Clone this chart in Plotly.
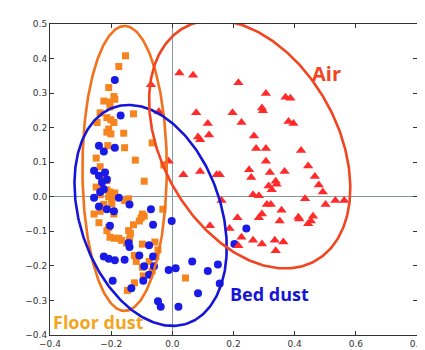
import numpy as np
import plotly.graph_objects as go

# ---------------- data ----------------
air_x = [-0.070, -0.044, -0.012, 0.023, 0.068, 0.216, 0.078, 0.197, 0.116, 0.226, 0.120, 0.084,
         0.091, 0.267, 0.306, 0.370, 0.386, 0.293, 0.296, 0.380, 0.396, 0.274, 0.306, 0.421,
         0.306, 0.444, 0.251, 0.319, 0.367, 0.466, 0.155, 0.258, 0.036, 0.091, 0.145, 0.338,
         0.341, 0.315, 0.325, 0.479, 0.492, 0.264, 0.283, 0.434, 0.533, 0.562, 0.501, 0.309,
         0.322, 0.357, 0.293, 0.283, 0.351, 0.412, 0.415, 0.460, 0.453, 0.444, 0.161, 0.213,
         0.123, 0.187, 0.226, 0.264, 0.293, 0.335, 0.363, 0.338, 0.216]
air_y = [0.324, 0.246, 0.103, 0.358, 0.352, 0.330, 0.243, 0.243, 0.212, 0.215, 0.179, 0.173,
         0.165, 0.176, 0.299, 0.288, 0.285, 0.257, 0.249, 0.218, 0.212, 0.140, 0.140, 0.134,
         0.103, 0.089, 0.078, 0.070, 0.073, 0.059, 0.064, 0.056, 0.064, 0.073, 0.064, 0.045,
         0.036, 0.031, 0.020, 0.034, 0.014, 0.006, 0.003, -0.006, -0.011, -0.011, -0.022, -0.022,
         -0.022, -0.039, -0.050, -0.061, -0.070, -0.059, -0.064, -0.056, -0.070, -0.078, -0.011, -0.061,
         -0.084, -0.092, -0.117, -0.126, -0.137, -0.126, -0.131, -0.156, -0.142]

bed_x = [-0.188, -0.169, -0.240, -0.224, -0.188, -0.256, -0.220, -0.240, -0.214, -0.230, -0.224,
         -0.236, -0.256, -0.175, -0.240, -0.214, -0.191, -0.140, -0.070, -0.002, -0.063, -0.204,
         -0.143, -0.140, -0.076, -0.224, -0.208, -0.188, -0.156, -0.108, -0.063, -0.092, -0.060,
         -0.012, 0.011, -0.076, -0.195, -0.095, -0.134, 0.065, 0.116, 0.149, 0.155, 0.084,
         -0.047, -0.038, 0.020, 0.242, 0.203]
bed_y = [0.338, 0.235, 0.148, 0.131, 0.142, 0.075, 0.070, 0.061, 0.050, 0.042, 0.022,
         0.014, -0.003, -0.003, -0.028, -0.036, -0.042, -0.022, -0.036, -0.070, -0.081, -0.084,
         -0.134, -0.145, -0.140, -0.173, -0.179, -0.184, -0.182, -0.170, -0.173, -0.201, -0.201,
         -0.212, -0.207, -0.226, -0.243, -0.243, -0.265, -0.187, -0.215, -0.196, -0.251, -0.279,
         -0.302, -0.318, -0.318, -0.092, -0.137]

floor_x = [-0.153, -0.175, -0.208, -0.191, -0.224, -0.204, -0.188, -0.204, -0.236, -0.127, -0.214,
           -0.201, -0.246, -0.191, -0.208, -0.214, -0.201, -0.159, -0.066, -0.211, -0.156, -0.249,
           -0.121, -0.236, -0.028, -0.230, -0.092, -0.214, -0.230, -0.249, -0.214, -0.204, -0.188,
           -0.236, -0.208, -0.198, -0.143, -0.156, -0.198, -0.224, -0.230, -0.236, -0.256, -0.191,
           -0.098, -0.092, -0.102, -0.108, -0.031, -0.240, -0.208, -0.214, -0.127, -0.143, -0.137,
           -0.204, -0.191, -0.175, -0.166, -0.140, -0.150, -0.098, -0.057, -0.047, -0.054, -0.124,
           -0.118, -0.076, -0.098, -0.066, -0.095, -0.124, -0.147, 0.043]
floor_y = [0.408, 0.377, 0.316, 0.290, 0.277, 0.274, 0.282, 0.260, 0.243, 0.240, 0.229,
           0.223, 0.215, 0.215, 0.196, 0.187, 0.182, 0.184, 0.156, 0.148, 0.142, 0.112,
           0.106, 0.087, 0.092, 0.059, 0.045, 0.047, 0.034, 0.028, 0.020, 0.014, 0.011,
           0.006, 0.000, -0.006, -0.006, -0.011, -0.020, -0.022, -0.034, -0.042, -0.050, -0.050,
           -0.050, -0.056, -0.061, -0.070, -0.036, -0.075, -0.089, -0.098, -0.081, -0.098, -0.106,
           -0.117, -0.120, -0.120, -0.126, -0.123, -0.134, -0.137, -0.131, -0.154, -0.173, -0.170,
           -0.187, -0.187, -0.204, -0.215, -0.229, -0.249, -0.271, -0.235]

x_ticks = [-0.4, -0.2, 0.0, 0.2, 0.4, 0.6, 0.8]
y_ticks = [0.5, 0.4, 0.3, 0.2, 0.1, 0.0, -0.1, -0.2, -0.3, -0.4]

# ellipse: center (data), semi-axes (screen px), tilt from vertical (deg)
ell_names = ["Floor dust", "Bed dust", "Air"]
ell_cx = [-0.156, -0.071, 0.253]
ell_cy = [0.082, -0.054, 0.152]
ell_a = [147.5, 118.0, 138.0]
ell_b = [43.0, 72.0, 89.4]
ell_ang = [0.0, 18.0, 28.5]

# ---------------- layout geometry ----------------
W, H = 425, 350
ML, MR, MT, MB = 42, 9, 16, 12
XR = [-0.4, 0.8]
YR = [-0.4, 0.5]
px_x = (W - ML - MR) / (XR[1] - XR[0])
px_y = (H - MT - MB) / (YR[1] - YR[0])

ORANGE = "#f7841f"
ORANGE_LINE = "#f2711c"
BLUE = "#1a1ae6"
BLUE_LINE = "#1515d6"
RED = "#ff2a2a"
RED_LINE = "#f2441f"
ell_colors = [ORANGE_LINE, BLUE_LINE, RED_LINE]

fig = go.Figure()

fig.add_trace(go.Scatter(x=floor_x, y=floor_y, mode="markers", name="Floor dust",
                         marker=dict(symbol="square", size=7, color=ORANGE, line=dict(width=0))))
fig.add_trace(go.Scatter(x=bed_x, y=bed_y, mode="markers", name="Bed dust",
                         marker=dict(symbol="circle", size=8, color=BLUE, line=dict(width=0))))
fig.add_trace(go.Scatter(x=air_x, y=air_y, mode="markers", name="Air",
                         marker=dict(symbol="triangle-up", size=9, color=RED, line=dict(width=0))))

t = np.linspace(0, 2 * np.pi, 300)
for cx, cy, a, b, ang, col in zip(ell_cx, ell_cy, ell_a, ell_b, ell_ang, ell_colors):
    th = np.radians(ang)
    sx = a * np.cos(t) * np.sin(th) + b * np.sin(t) * np.cos(th)
    sy = a * np.cos(t) * np.cos(th) - b * np.sin(t) * np.sin(th)
    fig.add_trace(go.Scatter(x=cx + sx / px_x, y=cy - sy / px_y, mode="lines",
                             line=dict(color=col, width=2.6), hoverinfo="skip"))

lab_font = "Open Sans, Arial, sans-serif"
fig.add_annotation(x=0.505, y=0.358, text="<b>Air</b>", showarrow=False,
                   font=dict(family=lab_font, size=20, color=RED_LINE))
fig.add_annotation(x=0.319, y=-0.282, text="<b>Bed dust</b>", showarrow=False,
                   font=dict(family=lab_font, size=18, color=BLUE_LINE))
fig.add_annotation(x=-0.242, y=-0.363, text="<b>Floor dust</b>", showarrow=False,
                   font=dict(family=lab_font, size=18, color="#f2a51f"))

axis_common = dict(showline=True, mirror="ticks", linecolor="#333333", linewidth=1,
                   ticks="inside", ticklen=4, tickcolor="#333333", showgrid=False,
                   zeroline=True, zerolinecolor="#8a9a9a", zerolinewidth=1,
                   tickfont=dict(family="DejaVu Sans", size=9, color="#333333"))

fig.update_xaxes(range=XR, tickvals=x_ticks,
                 ticktext=[("−" if v < 0 else "") + f"{abs(v):.1f}" for v in x_ticks],
                 **axis_common)
fig.update_yaxes(range=YR, tickvals=y_ticks,
                 ticktext=[("−" if v < 0 else "") + f"{abs(v):.1f}" for v in y_ticks],
                 **axis_common)

fig.update_layout(width=W, height=H, showlegend=False,
                  margin=dict(l=ML, r=MR, t=MT, b=MB),
                  paper_bgcolor="white", plot_bgcolor="white")

fig.write_html("out.html")
